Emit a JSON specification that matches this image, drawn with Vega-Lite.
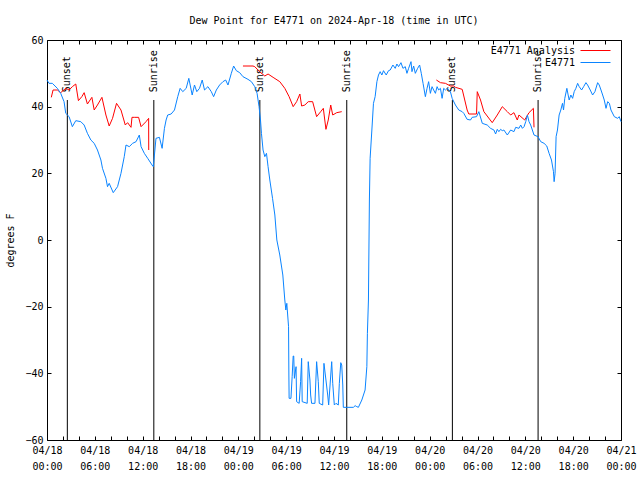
{
  "$schema": "https://vega.github.io/schema/vega-lite/v6.json",
  "width": 574,
  "height": 400,
  "autosize": {"type": "none"},
  "padding": {"left": 47, "top": 40, "right": 19, "bottom": 40},
  "background": "white",
  "title": {"text": "Dew Point for E4771 on 2024-Apr-18 (time in UTC)", "font": "DejaVu Sans Mono", "fontSize": 10, "fontWeight": "normal", "color": "black", "anchor": "middle", "offset": 9},
  "config": {
    "view": {"stroke": "black", "strokeWidth": 1},
    "font": "DejaVu Sans Mono",
    "axis": {"grid": false, "domain": false, "tickColor": "black", "labelColor": "black", "labelFont": "DejaVu Sans Mono", "labelFontSize": 10, "titleFont": "DejaVu Sans Mono", "titleFontSize": 10, "titleFontWeight": "normal", "titleColor": "black"},
    "legend": {"labelFont": "DejaVu Sans Mono", "labelFontSize": 10, "labelColor": "black"}
  },
  "datasets": {
    "sun": [
      {"h": 2.55, "label": "Sunset"},
      {"h": 13.4, "label": "Sunrise"},
      {"h": 26.7, "label": "Sunset"},
      {"h": 37.6, "label": "Sunrise"},
      {"h": 50.85, "label": "Sunset"},
      {"h": 61.6, "label": "Sunrise"}
    ],
    "ana": [
      {"g":1,"h":0.54,"v":42.8},{"g":1,"h":0.76,"v":45},{"g":1,"h":1.3,"v":45},{"g":1,"h":1.72,"v":44.2},{"g":1,"h":2.35,"v":45.5},{"g":1,"h":2.77,"v":45},{"g":1,"h":3.18,"v":46},{"g":1,"h":3.61,"v":46.8},{"g":1,"h":3.94,"v":41.8},{"g":1,"h":4.37,"v":43},{"g":1,"h":4.66,"v":44.2},{"g":1,"h":5.07,"v":40.8},{"g":1,"h":5.63,"v":42.8},{"g":1,"h":5.92,"v":39},{"g":1,"h":6.33,"v":40.5},{"g":1,"h":6.89,"v":42.8},{"g":1,"h":7.39,"v":37.5},{"g":1,"h":7.8,"v":34.2},{"g":1,"h":8.22,"v":36.5},{"g":1,"h":8.72,"v":41},{"g":1,"h":9.28,"v":39},{"g":1,"h":9.82,"v":34.5},{"g":1,"h":10.11,"v":35.2},{"g":1,"h":10.54,"v":33.8},{"g":1,"h":10.66,"v":36.8},{"g":1,"h":10.95,"v":36.8},{"g":1,"h":11.49,"v":36.8},{"g":1,"h":11.8,"v":34},{"g":1,"h":12.42,"v":35.5},{"g":1,"h":12.75,"v":36.5},{"g":1,"h":12.76,"v":27},
      {"g":2,"h":24.58,"v":52.2},{"g":2,"h":25.84,"v":52.2},{"g":2,"h":26.06,"v":52},{"g":2,"h":26.66,"v":50.5},{"g":2,"h":27.32,"v":49.2},{"g":2,"h":27.73,"v":49.8},{"g":2,"h":28.36,"v":48.8},{"g":2,"h":29.2,"v":47.5},{"g":2,"h":29.83,"v":45.5},{"g":2,"h":30.37,"v":43},{"g":2,"h":30.88,"v":40},{"g":2,"h":31.31,"v":41.5},{"g":2,"h":31.72,"v":43.8},{"g":2,"h":31.94,"v":40.2},{"g":2,"h":32.35,"v":40.5},{"g":2,"h":32.77,"v":41.5},{"g":2,"h":33.32,"v":41.5},{"g":2,"h":33.82,"v":37},{"g":2,"h":34.33,"v":38.5},{"g":2,"h":34.66,"v":39.5},{"g":2,"h":34.99,"v":33.2},{"g":2,"h":35.28,"v":36},{"g":2,"h":35.59,"v":40.5},{"g":2,"h":35.84,"v":37.5},{"g":2,"h":36.34,"v":38.2},{"g":2,"h":36.97,"v":38.5},
      {"g":3,"h":48.84,"v":48},{"g":3,"h":49.35,"v":47.2},{"g":3,"h":49.98,"v":47},{"g":3,"h":50.6,"v":46.2},{"g":3,"h":51.02,"v":46.2},{"g":3,"h":51.23,"v":45.8},{"g":3,"h":52.08,"v":45.2},{"g":3,"h":52.7,"v":39},{"g":3,"h":52.91,"v":37.8},{"g":3,"h":53.88,"v":37.8},{"g":3,"h":53.97,"v":44.5},{"g":3,"h":54.38,"v":42},{"g":3,"h":54.8,"v":38.5},{"g":3,"h":55.85,"v":35.2},{"g":3,"h":56.48,"v":37.5},{"g":3,"h":57.11,"v":40},{"g":3,"h":57.74,"v":38.5},{"g":3,"h":58.16,"v":37.5},{"g":3,"h":58.57,"v":38.2},{"g":3,"h":58.99,"v":36},{"g":3,"h":59.2,"v":37.5},{"g":3,"h":59.92,"v":36},{"g":3,"h":60.46,"v":38.2},{"g":3,"h":61.01,"v":39.5},{"g":3,"h":61.09,"v":33.8}
    ],
    "obs": [
      {"h":0,"v":48},{"h":0.25,"v":47},{"h":0.67,"v":47},{"h":1.3,"v":45.5},{"h":1.72,"v":44},{"h":2.14,"v":41.5},{"h":2.35,"v":38},{"h":2.77,"v":37},{"h":3.18,"v":34},{"h":3.61,"v":35.8},{"h":4.24,"v":35.5},{"h":4.66,"v":34.5},{"h":5.07,"v":32},{"h":5.5,"v":30},{"h":5.92,"v":29},{"h":6.33,"v":27},{"h":6.76,"v":24},{"h":6.96,"v":21.5},{"h":7.39,"v":18.5},{"h":7.59,"v":16},{"h":7.8,"v":17},{"h":8.31,"v":14.2},{"h":8.85,"v":16},{"h":9.28,"v":20},{"h":9.69,"v":25},{"h":9.91,"v":28.5},{"h":10.32,"v":28},{"h":10.74,"v":29},{"h":11.17,"v":29.5},{"h":11.58,"v":31.5},{"h":11.8,"v":28},{"h":12.21,"v":26},{"h":12.63,"v":24.5},{"h":13.26,"v":22.2},{"h":13.34,"v":22},{"h":13.67,"v":30.5},{"h":14.1,"v":30.8},{"h":14.44,"v":27.5},{"h":14.73,"v":33.5},{"h":14.94,"v":36},{"h":15.14,"v":37.5},{"h":15.57,"v":37.8},{"h":15.99,"v":39},{"h":16.4,"v":43},{"h":16.7,"v":45.5},{"h":17.03,"v":44.5},{"h":17.46,"v":45.5},{"h":17.79,"v":48.5},{"h":18.21,"v":43.5},{"h":18.5,"v":46.5},{"h":18.79,"v":44.5},{"h":19.13,"v":45.5},{"h":19.47,"v":48},{"h":19.76,"v":45},{"h":20.18,"v":46},{"h":20.61,"v":44.5},{"h":20.9,"v":43},{"h":21.24,"v":45},{"h":21.65,"v":46.5},{"h":22.07,"v":47.5},{"h":22.41,"v":48},{"h":22.7,"v":46.5},{"h":23.12,"v":50},{"h":23.41,"v":52.2},{"h":23.75,"v":50.8},{"h":24.17,"v":50.2},{"h":24.58,"v":49},{"h":25.21,"v":48.2},{"h":25.64,"v":47.5},{"h":26.06,"v":46},{"h":26.35,"v":44},{"h":26.6,"v":40},{"h":26.78,"v":36},{"h":26.9,"v":32},{"h":27.1,"v":27},{"h":27.32,"v":25},{"h":27.53,"v":26},{"h":27.73,"v":22},{"h":27.95,"v":18},{"h":28.29,"v":12.5},{"h":28.58,"v":7.5},{"h":28.83,"v":0},{"h":29.2,"v":-4.5},{"h":29.58,"v":-10.5},{"h":29.83,"v":-18},{"h":29.96,"v":-21},{"h":30.08,"v":-19},{"h":30.3,"v":-26},{"h":30.34,"v":-40.5},{"h":30.37,"v":-47.5},{"h":30.6,"v":-47.5},{"h":30.75,"v":-41},{"h":30.88,"v":-34.8},{"h":30.95,"v":-34.8},{"h":31.03,"v":-41.5},{"h":31.24,"v":-38},{"h":31.31,"v":-48.5},{"h":31.63,"v":-49},{"h":31.81,"v":-42.5},{"h":31.94,"v":-35.5},{"h":32.01,"v":-48.5},{"h":32.64,"v":-49},{"h":32.77,"v":-36.5},{"h":32.98,"v":-42},{"h":33.07,"v":-46.5},{"h":33.19,"v":-49},{"h":33.61,"v":-49},{"h":33.82,"v":-36.5},{"h":34.03,"v":-42.5},{"h":34.15,"v":-49},{"h":34.58,"v":-49.5},{"h":34.74,"v":-37},{"h":34.99,"v":-42},{"h":35.21,"v":-46.5},{"h":35.33,"v":-49.5},{"h":35.71,"v":-36.5},{"h":35.84,"v":-43},{"h":36.04,"v":-49.5},{"h":36.25,"v":-49},{"h":36.54,"v":-49.5},{"h":36.67,"v":-43},{"h":36.85,"v":-36.8},{"h":36.97,"v":-37.5},{"h":37.1,"v":-43.5},{"h":37.17,"v":-50.2},{"h":38.43,"v":-50.2},{"h":38.65,"v":-49.7},{"h":38.86,"v":-50},{"h":39.06,"v":-50.2},{"h":39.49,"v":-48},{"h":39.9,"v":-45},{"h":40.12,"v":-38},{"h":40.19,"v":-28},{"h":40.32,"v":-18},{"h":40.44,"v":12},{"h":40.53,"v":24.5},{"h":40.75,"v":33},{"h":40.95,"v":41},{"h":41.16,"v":43},{"h":41.38,"v":47.5},{"h":41.58,"v":49.5},{"h":41.79,"v":50.5},{"h":42.0,"v":49.5},{"h":42.21,"v":50.8},{"h":42.55,"v":49.5},{"h":42.84,"v":50.8},{"h":43.05,"v":51},{"h":43.39,"v":52.5},{"h":43.68,"v":51.5},{"h":43.89,"v":52.8},{"h":44.1,"v":52},{"h":44.4,"v":53.2},{"h":44.65,"v":51.5},{"h":44.94,"v":52},{"h":45.15,"v":50},{"h":45.36,"v":51.5},{"h":45.66,"v":53.5},{"h":45.78,"v":50.5},{"h":45.99,"v":52.2},{"h":46.2,"v":50},{"h":46.49,"v":51.5},{"h":46.74,"v":52.5},{"h":46.95,"v":50},{"h":47.17,"v":47},{"h":47.46,"v":43},{"h":47.67,"v":45.5},{"h":47.87,"v":47.5},{"h":48.09,"v":44},{"h":48.3,"v":46},{"h":48.5,"v":45},{"h":48.72,"v":44},{"h":48.93,"v":46},{"h":49.13,"v":45},{"h":49.35,"v":45.5},{"h":49.56,"v":42.5},{"h":49.76,"v":45.5},{"h":49.98,"v":45},{"h":50.19,"v":45.5},{"h":50.39,"v":45},{"h":50.6,"v":44.5},{"h":50.82,"v":42.5},{"h":51.23,"v":40.5},{"h":51.65,"v":39},{"h":52.08,"v":38.5},{"h":52.28,"v":38},{"h":52.7,"v":36.2},{"h":53.12,"v":36},{"h":53.33,"v":36.8},{"h":53.88,"v":37},{"h":54.17,"v":38.5},{"h":54.6,"v":35},{"h":55.22,"v":34.5},{"h":55.64,"v":33.5},{"h":56.06,"v":33},{"h":56.27,"v":31.8},{"h":56.48,"v":33.2},{"h":56.68,"v":32.5},{"h":56.9,"v":33.2},{"h":57.11,"v":32.8},{"h":57.31,"v":33},{"h":57.74,"v":31.5},{"h":58.16,"v":33},{"h":58.57,"v":32.5},{"h":58.79,"v":33.8},{"h":59.2,"v":33.5},{"h":59.42,"v":34.5},{"h":59.63,"v":33.5},{"h":59.84,"v":34},{"h":60.05,"v":35.5},{"h":60.26,"v":37.5},{"h":60.46,"v":35.5},{"h":60.67,"v":34.5},{"h":61.09,"v":31.5},{"h":61.59,"v":31},{"h":61.93,"v":29.5},{"h":62.35,"v":29},{"h":62.69,"v":28.2},{"h":62.98,"v":26},{"h":63.28,"v":24},{"h":63.53,"v":20.5},{"h":63.61,"v":17.5},{"h":63.73,"v":20},{"h":63.86,"v":31},{"h":64.03,"v":33},{"h":64.24,"v":37.5},{"h":64.45,"v":39},{"h":64.66,"v":41},{"h":64.79,"v":39},{"h":64.95,"v":42.5},{"h":65.21,"v":45.5},{"h":65.37,"v":43.5},{"h":65.5,"v":42},{"h":65.71,"v":43.5},{"h":65.93,"v":42.5},{"h":66.13,"v":44.5},{"h":66.34,"v":45.5},{"h":66.56,"v":47},{"h":66.76,"v":46},{"h":67.06,"v":45},{"h":67.31,"v":46},{"h":67.6,"v":47.2},{"h":67.81,"v":46.5},{"h":68.14,"v":45},{"h":68.44,"v":43.5},{"h":68.73,"v":44.5},{"h":69.07,"v":47.2},{"h":69.27,"v":46.5},{"h":69.49,"v":45},{"h":69.7,"v":43.5},{"h":69.9,"v":42},{"h":70.12,"v":39.5},{"h":70.33,"v":41.5},{"h":70.54,"v":41},{"h":70.74,"v":39},{"h":71.16,"v":37},{"h":71.58,"v":36.5},{"h":71.78,"v":37},{"h":72,"v":35.5}
    ]
  },
  "layer": [
    {
      "data": {"name": "sun"},
      "mark": {"type": "rule", "color": "black", "strokeWidth": 1},
      "encoding": {
        "x": {"field": "h", "type": "quantitative", "scale": {"domain": [0, 72], "nice": false, "zero": false},
          "axis": {"orient": "bottom", "values": [0,2,4,6,8,10,12,14,16,18,20,22,24,26,28,30,32,34,36,38,40,42,44,46,48,50,52,54,56,58,60,62,64,66,68,70,72], "tickSize": -4, "labelPadding": 9, "labelLineHeight": 16, "labelOverlap": false, "labelFlush": false, "labelBound": false, "title": null,
            "labelExpr": "datum.value % 6 == 0 ? ['04/' + (18 + floor(datum.value / 24)), (datum.value % 24 < 10 ? '0' : '') + (datum.value % 24) + ':00'] : ''"}},
        "y": {"datum": 42, "type": "quantitative", "scale": {"domain": [-60, 60], "nice": false, "zero": false},
          "axis": {"orient": "left", "values": [-60,-40,-20,0,20,40,60], "tickSize": -4, "labelPadding": 8, "title": "degrees F", "titlePadding": 9}},
        "y2": {"datum": -60}
      }
    },
    {
      "data": {"name": "sun"},
      "mark": {"type": "text", "angle": 270, "align": "left", "baseline": "middle", "font": "DejaVu Sans Mono", "fontSize": 10, "color": "black"},
      "encoding": {
        "x": {"field": "h", "type": "quantitative", "axis": {"orient": "top", "values": [0,2,4,6,8,10,12,14,16,18,20,22,24,26,28,30,32,34,36,38,40,42,44,46,48,50,52,54,56,58,60,62,64,66,68,70,72], "tickSize": -4, "labels": false, "title": null}},
        "y": {"datum": 44.3, "type": "quantitative", "axis": {"orient": "right", "values": [-60,-40,-20,0,20,40,60], "tickSize": -4, "labels": false, "title": null}},
        "text": {"field": "label"}
      }
    },
    {
      "data": {"name": "ana"},
      "mark": {"type": "line", "strokeWidth": 1, "interpolate": "linear"},
      "encoding": {
        "x": {"field": "h", "type": "quantitative", "axis": null},
        "y": {"field": "v", "type": "quantitative", "axis": null},
        "detail": {"field": "g"},
        "color": {"datum": "E4771 Analysis", "scale": {"domain": ["E4771 Analysis", "E4771"], "range": ["#ff0000", "#0a84ff"]},
          "legend": {"orient": "none", "legendX": 542, "legendY": 4, "title": null, "symbolType": "M-2.5,0H2.5", "symbolSize": 144, "symbolStrokeWidth": 1, "labelAlign": "right", "labelOffset": -27, "rowPadding": 0, "padding": 0}}
      }
    },
    {
      "data": {"name": "obs"},
      "mark": {"type": "line", "strokeWidth": 1, "interpolate": "linear"},
      "encoding": {
        "x": {"field": "h", "type": "quantitative", "axis": null},
        "y": {"field": "v", "type": "quantitative", "axis": null},
        "color": {"datum": "E4771"}
      }
    }
  ],
  "resolve": {"axis": {"x": "independent", "y": "independent"}}
}
